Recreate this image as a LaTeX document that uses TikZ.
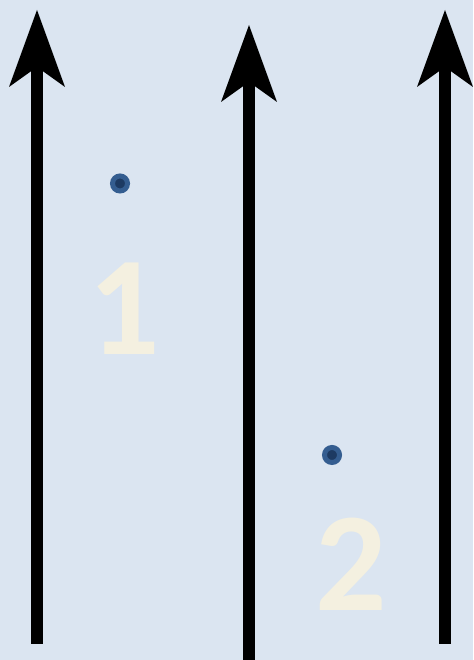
\documentclass[tikz,border=0pt]{standalone}
\usepackage{fontspec}
\newfontfamily\digitfont{Carlito}
\usepackage{tikz}
\usetikzlibrary{arrows.meta, positioning}
\usepackage{xcolor}
\definecolor{PanelBlue}{HTML}{DBE5F1}
\definecolor{PanelCream}{HTML}{F4F0E0}
\definecolor{DotBlue}{HTML}{345D90}
\definecolor{DotNavy}{HTML}{1D3A62}
\definecolor{LineBlack}{HTML}{000000}
\tikzset{
    % Lane arrows
    lanearrow/.style={
        -{Stealth[length=77pt, width=56pt, inset=20pt, line width=0pt]},
        line width=12pt,
        LineBlack
    },
    % Point markers
    dotmark/.style={
        circle,
        draw=DotBlue,
        fill=DotNavy,
        line width=5pt,
        minimum size=15pt,
        inner sep=0pt
    },
    % Big numbers
    bignum/.style={
        inner sep=0pt,
        text=PanelCream,
        font=\digitfont\bfseries\fontsize{141}{141}\selectfont
    }
}

\begin{document}
\begin{tikzpicture}[x=1pt, y=1pt]
    % Background
    \fill[PanelBlue] (0,0) rectangle (473,660);
    \useasboundingbox (0,0) rectangle (473,660);

    % Lane ends
    \coordinate (left-bot) at (37,16);
    \coordinate (left-top) at (37,650);
    \coordinate (mid-bot) at (249,0);
    \coordinate (mid-top) at (249,635);
    \coordinate (right-bot) at (445,16);
    \coordinate (right-top) at (445,650);

    % Lanes
    \draw[lanearrow] (left-bot) -- (left-top);
    \draw[lanearrow] (mid-bot) -- (mid-top);
    \draw[lanearrow] (right-bot) -- (right-top);

    % Markers
    \node[dotmark] (dot1) at (120,476.5) {};
    \node[dotmark] (dot2) at (332,205) {};

    % Numbers
    \node[bignum] (num1) at (124,351) {1};
    \node[bignum] (num2) at (351,96) {2};
\end{tikzpicture}
\end{document}
